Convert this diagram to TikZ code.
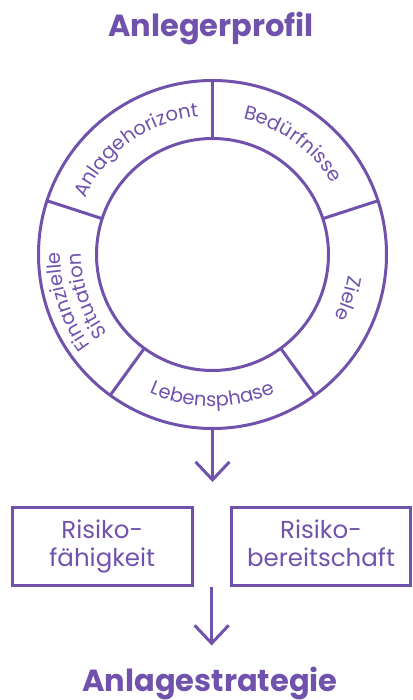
\documentclass[tikz,border=0pt]{standalone}
\usepackage{fontspec}
\setmainfont{Poppins}
\usepackage[HTML]{xcolor}
\usepackage{tikz}
\usetikzlibrary{positioning, arrows.meta, decorations.text, calc}
\definecolor{lila}{HTML}{7052AC}
\newcommand{\ringfont}{\fontsize{19.5}{21}\selectfont\color{lila}}

\begin{document}
\begin{tikzpicture}[x=1pt,y=1pt,
  feld/.style={draw=lila, line width=3pt, minimum width=179.5pt, minimum height=78.5pt,
    inner sep=0pt, align=center, text=lila, font=\fontsize{24.5}{28}\selectfont},
  titel/.style={text=lila, font=\fontsize{30.5}{34}\selectfont\bfseries},
  pfeil/.style={draw=lila, line width=3pt, -{Straight Barb[length=18pt,width=34pt]}},
  ringlinie/.style={draw=lila, line width=3pt}]
\useasboundingbox (-212.5,254.5) rectangle (199.5,-445.5);

\coordinate (M) at (0,0);
\coordinate (unten) at (-90:174pt);
\coordinate (spitze1) at (0,-227.5);

\draw[ringlinie] (M) circle (174pt);
\draw[ringlinie] (M) circle (116pt);
\foreach \w in {90,18,-54,-126,162}{\draw[ringlinie] (\w:116pt) -- (\w:174pt);}

\path[decorate, decoration={text along path, text align=center,
  text={|\ringfont|Anlagehorizont}}] (162:139pt) arc[start angle=162, end angle=90, radius=139pt];
\path[decorate, decoration={text along path, text align=center,
  text={|\ringfont|Bedürfnisse}}] (90:139pt) arc[start angle=90, end angle=18, radius=139pt];
\path[decorate, decoration={text along path, text align=center,
  text={|\ringfont|Ziele}}] (18:137pt) arc[start angle=18, end angle=-54, radius=137pt];
\path[decorate, decoration={text along path, text align=center,
  text={|\ringfont|Lebensphase}}] (-126:152pt) arc[start angle=-126, end angle=-54, radius=152pt];
\path[decorate, decoration={text along path, text align=center,
  text={|\ringfont|Finanzielle}}] (234:152pt) arc[start angle=234, end angle=162, radius=152pt];
\path[decorate, decoration={text along path, text align=center,
  text={|\ringfont|Situation}}] (234:131pt) arc[start angle=234, end angle=162, radius=131pt];

\node[titel, anchor=base] (profil) at (-1.5,217.5) {Anlegerprofil};

\node[feld] (faehig) at (-110.25,-291.75) {Risiko-\\fähigkeit};
\node[feld] (bereit) at (108.5,-291.75) {Risiko-\\bereitschaft\vphantom{g}};

\coordinate (mitte) at ($(faehig.south)!0.5!(bereit.south)$);
\coordinate (spitze2) at ($(mitte)+(0,-58.5)$);

\draw[pfeil] (unten) -- (spitze1);
\draw[pfeil] (mitte) -- (spitze2);

\node[titel, anchor=base] (strategie) at (-2.5,-437.3) {Anlagestrategie};
\end{tikzpicture}
\end{document}
